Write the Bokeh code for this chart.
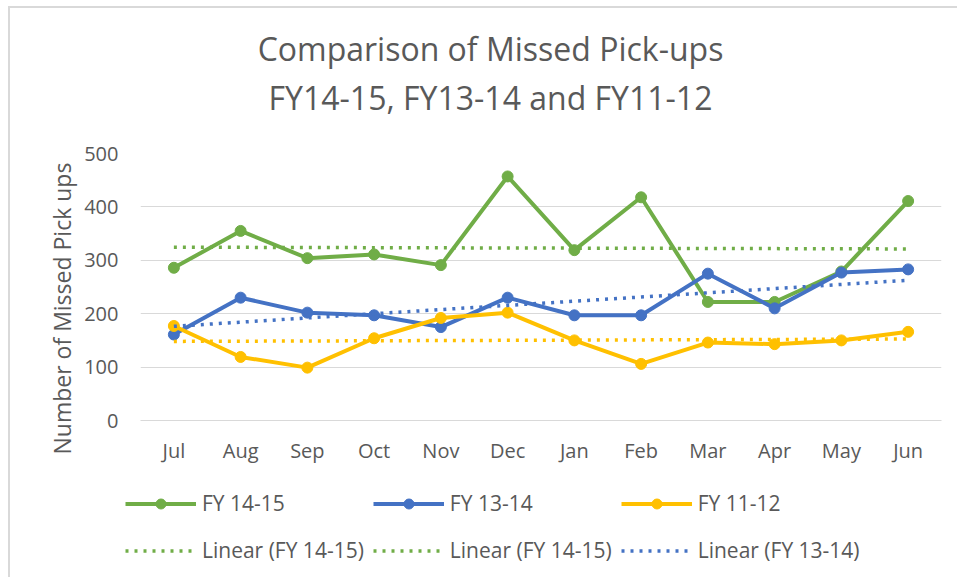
import numpy as np
from bokeh.plotting import figure
from bokeh.models import Legend, LegendItem, Title, Label
from bokeh.embed import file_html
from bokeh.resources import INLINE

# ---- data ----
months = ["Jul", "Aug", "Sep", "Oct", "Nov", "Dec", "Jan", "Feb", "Mar", "Apr", "May", "Jun"]
fy_14_15 = [286, 355, 304, 311, 291, 457, 319, 418, 222, 222, 279, 411]
fy_13_14 = [161, 230, 202, 197, 175, 230, 197, 197, 275, 210, 277, 283]
fy_11_12 = [177, 119, 99, 154, 192, 202, 150, 106, 146, 143, 150, 166]
y_ticks = [0, 100, 200, 300, 400, 500]
title_lines = ["Comparison of Missed Pick-ups", "FY14-15, FY13-14 and FY11-12"]
y_label = "Number of Missed Pick ups"
series_labels = ["FY 14-15", "FY 13-14", "FY 11-12"]
trend_labels = ["Linear (FY 14-15)", "Linear (FY 14-15)", "Linear (FY 13-14)"]

GREEN = "#70AD47"
BLUE = "#4472C4"
YELLOW = "#FFC000"
TEXT = "#595959"
GRID = "#D9D9D9"
FONT = "Open Sans"
W = 949


def linear_trend(vals):
    idx = np.arange(len(vals))
    k, b = np.polyfit(idx, np.asarray(vals, dtype=float), 1)
    return list(k * idx + b)


def draw_series(fig):
    r = {}
    r["g_line"] = fig.line(months, fy_14_15, line_color=GREEN, line_width=4)
    r["g_pts"] = fig.scatter(months, fy_14_15, size=11, color=GREEN)
    r["b_line"] = fig.line(months, fy_13_14, line_color=BLUE, line_width=4)
    r["b_pts"] = fig.scatter(months, fy_13_14, size=11, color=BLUE)
    r["y_line"] = fig.line(months, fy_11_12, line_color=YELLOW, line_width=4)
    r["y_pts"] = fig.scatter(months, fy_11_12, size=11, color=YELLOW)
    r["g_tr"] = fig.line(months, linear_trend(fy_14_15), line_color=GREEN, line_width=3.5, line_dash="3 6")
    r["y_tr"] = fig.line(months, linear_trend(fy_11_12), line_color=YELLOW, line_width=3.5, line_dash="3 6")
    r["b_tr"] = fig.line(months, linear_trend(fy_13_14), line_color=BLUE, line_width=3.5, line_dash="3 6")
    return r


def strip(height, **kw):
    f = figure(width=W, height=height, min_border=0,
               x_axis_location=None, y_axis_location=None,
               output_backend="svg", toolbar_location=None,
               background_fill_color="white", border_fill_color="white", **kw)
    f.outline_line_color = None
    f.grid.visible = False
    return f


# ---- title strip ----
tf = strip(120, x_range=(0, 1), y_range=(0, 1))
for txt, vy in zip(title_lines, [80, 31]):
    tf.add_layout(Label(x=480, y=vy, x_units="screen", y_units="screen", text=txt,
                        text_font=FONT, text_font_size="32px", text_color=TEXT,
                        text_align="center", text_baseline="middle"))
tf.styles = {"margin-left": "8px", "margin-top": "6px",
             "border-left": "2px solid #D9D9D9", "border-top": "2px solid #D9D9D9"}

# ---- main chart ----
p = figure(
    x_range=months, y_range=(0, 500),
    width=W, height=347,
    min_border_left=130, min_border_right=18,
    min_border_top=27, min_border_bottom=53,
    output_backend="svg", toolbar_location=None,
    background_fill_color="white", border_fill_color="white",
)
p.outline_line_color = None
p.styles = {"margin-left": "8px", "border-left": "2px solid #D9D9D9"}

p.xgrid.grid_line_color = None
p.ygrid.grid_line_color = GRID
p.ygrid.grid_line_width = 1
p.yaxis.ticker = y_ticks
for ax in (p.xaxis[0], p.yaxis[0]):
    ax.major_tick_line_color = None
    ax.minor_tick_line_color = None
    ax.major_tick_out = 0
    ax.major_tick_in = 0
    ax.minor_tick_out = 0
    ax.minor_tick_in = 0
    ax.major_label_text_font = FONT
    ax.major_label_text_font_size = "20px"
    ax.major_label_text_color = TEXT
p.xaxis.axis_line_color = GRID
p.xaxis.axis_line_width = 1
p.yaxis.axis_line_color = None
p.xaxis.major_label_standoff = 16
p.yaxis.major_label_standoff = 22

ylab = Title(text=y_label, align="left", offset=-34, standoff=7,
             text_font=FONT, text_font_size="23px", text_font_style="normal",
             text_color=TEXT)
p.add_layout(ylab, "left")

draw_series(p)

# ---- legend strip: same series, drawn into a range where they stay out of view ----
lg = strip(104, x_range=months, y_range=(1000, 1001))
lg.styles = {"margin-left": "8px", "border-left": "2px solid #D9D9D9"}
r = draw_series(lg)

legend = Legend(
    items=[
        LegendItem(label=series_labels[0], renderers=[r["g_line"], r["g_pts"]]),
        LegendItem(label=series_labels[1], renderers=[r["b_line"], r["b_pts"]]),
        LegendItem(label=series_labels[2], renderers=[r["y_line"], r["y_pts"]]),
        LegendItem(label=trend_labels[0], renderers=[r["g_tr"]]),
        LegendItem(label=trend_labels[1], renderers=[r["g_tr"]]),
        LegendItem(label=trend_labels[2], renderers=[r["b_tr"]]),
    ],
    orientation="horizontal", ncols=3,
    location=(115, 8), margin=0, padding=0, spacing=9,
    glyph_width=71, glyph_height=25, label_height=38, label_standoff=6,
    label_text_font=FONT, label_text_font_size="21px",
    label_text_color=TEXT, border_line_color=None, background_fill_alpha=0,
)
lg.add_layout(legend, "center")

open("out.html", "w").write(file_html([tf, p, lg], INLINE))
